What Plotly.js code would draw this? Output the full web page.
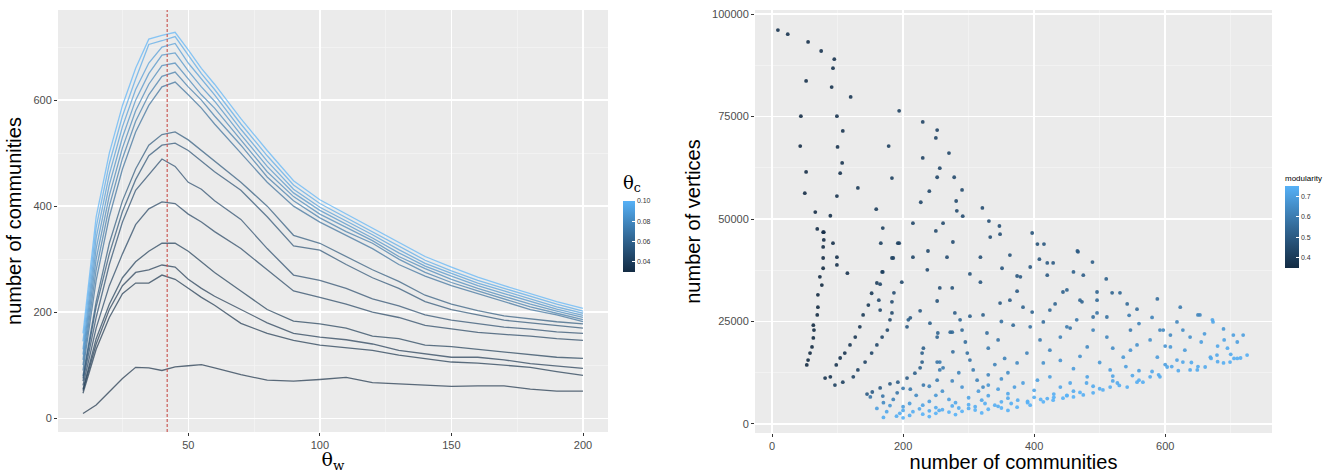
<!DOCTYPE html>
<html>
<head>
<meta charset="utf-8">
<script src="https://cdn.plot.ly/plotly-3.0.1.min.js"></script>
<style>
  html, body { margin: 0; padding: 0; background: #ffffff; }
  #chart { width: 1341px; height: 473px; }
</style>
</head>
<body>
<div id="chart"></div>
<script>
// ---------------- DATA (left panel) ----------------
const thetaW = [10,15,20,25,30,35,40,45,50,55,60,70,80,90,100,110,120,130,140,150,160,170,180,190,200];
const thetaC = [0.030,0.032,0.034,0.036,0.040,0.044,0.048,0.052,0.064,0.070,0.076,0.082,0.088,0.094,0.100];
const optimalThetaW = 42;

const comm_tc030 = [9,25,50,75,96,95,90,97,99,101,95,82,72,70,73,77,67,65,63,60,61,61,55,51,51];
const comm_tc032 = [47,130,190,235,255,255,270,262,245,228,213,179,160,147,138,133,128,119,112,106,104,100,96,88,81];
const comm_tc034 = [52,140,205,250,275,280,289,285,262,245,230,205,180,160,153,148,140,128,122,115,115,110,103,98,94];
const comm_tc036 = [55,150,215,265,295,315,330,330,315,295,275,240,205,183,178,170,155,150,138,135,130,125,120,115,113];
const comm_tc040 = [62,170,250,310,365,395,408,405,385,370,352,320,280,240,228,215,200,190,175,168,162,158,155,150,147];
const comm_tc044 = [70,190,290,370,430,460,489,475,445,432,410,375,320,270,260,245,225,212,195,185,178,172,168,163,160];
const comm_tc048 = [75,210,310,390,450,495,515,519,505,485,465,430,380,325,317,290,265,245,220,205,195,185,180,175,170];
const comm_tc052 = [80,220,330,410,470,515,535,540,525,505,485,445,400,345,330,305,280,258,232,215,203,193,187,182,178];
const comm_tc064 = [90,260,380,470,540,590,625,634,610,585,555,500,445,400,370,345,320,290,268,250,235,220,205,195,182];
const comm_tc070 = [100,280,400,490,560,610,645,653,625,600,570,515,455,410,378,352,330,300,275,256,240,225,210,198,186];
const comm_tc076 = [110,300,420,510,580,630,665,670,640,610,585,525,465,418,385,360,335,305,282,262,245,230,215,202,190];
const comm_tc082 = [120,320,440,530,600,650,685,689,655,625,598,535,475,425,392,366,340,312,287,268,250,235,220,206,194];
const comm_tc088 = [130,340,460,550,620,670,700,707,670,640,610,545,485,432,398,372,346,318,292,273,255,240,225,210,198];
const comm_tc094 = [145,360,480,570,640,705,712,720,685,650,620,555,495,440,405,378,352,325,298,278,260,245,230,215,202];
const comm_tc100 = [160,380,500,590,660,715,722,728,695,660,630,565,505,448,412,385,358,332,305,285,266,250,235,220,207];

const communitySeries = [comm_tc030,comm_tc032,comm_tc034,comm_tc036,comm_tc040,comm_tc044,comm_tc048,comm_tc052,
                         comm_tc064,comm_tc070,comm_tc076,comm_tc082,comm_tc088,comm_tc094,comm_tc100];

// ---------------- DATA (right panel) ----------------
const numCommunities = [
 9,24,55,75,95,93,52,91,120,194,44,99,230,252,108,250,43,100,178,270,230,107,256,52,104,183,252,278,131,240,290,50,99,227,281,159,282,321,66,89,291,331,215,261,347,169,250,69,79,348,333,
 397,166,194,276,405,415,238,466,215,267,318,363,408,489,429,185,169,237,351,420,302,374,475,510,198,318,165,256,374,444,496,519,531,588,186,275,252,348,363,432,473,542,557,623,650,226,279,397,490,511,673,689,208,302,322,368,455,414,547,592,608,275,328,704,719,
 53,55,58,61,63,64,63,69,70,70,76,73,78,78,78,79,78,93,99,99,115,
 81,89,98,104,111,119,127,134,139,147,152,160,168,183,192,
 96,108,124,131,142,152,160,168,176,180,183,183,163,165,
 145,153,165,180,192,206,218,226,229,229,231,
 150,169,191,211,231,252,256,256,
 241,252,272,287,290,295,298,302,307,313,322,206,211,253,276,252,261,
 467,653,672,710,725,715,699,689,679,669,661,649,638,627,618,603,592,577,566,557,542,527,516,505,490,475,460,444,429,414,394,374,
 383,405,424,455,481,516,536,547,557,577,597,618,627,638,588,608,
 440,450,465,496,490,511,481,409,394,424,389,414,374,379,394,420,450,470,424,383,496,460,
 170,190,210,230,250,270,290,310,330,350,175,200,225,250,275,300,325,350,375,180,210,240,270,300,330,360,185,220,260,290,330,350,
 400,430,460,490,520,550,580,610,640,670,700,400,440,480,520,560,600,
 195,215,240,260,285,310,340,365,390,420,450,280,320,360,200,230,250,315,345,370,240,275,285,200,170,160,330,340,360,355,330,345,350,
 440,460,470,500,520,540,560,580,545,600,630,655,680,695,705,660,690,
 390,410,430,450,470,500,530,560,590,620,650,680,710,240,280,320,360,200,255,300,345
];
const numVertices = [
 96100,95100,93200,91000,89000,86800,83700,82200,79800,76400,75100,75100,73700,71700,71500,69800,67800,67600,67800,66100,64900,63700,62400,61500,61200,60000,60200,60200,57600,56800,57100,56300,55600,54100,54400,52400,52000,52700,51700,50800,50700,49500,49000,49000,48300,47800,47100,47600,46800,46300,45600,
 46600,44100,44100,44400,43900,43900,42200,42200,40700,40700,40700,41200,40200,39500,39300,40500,37100,37600,38000,36300,36600,36100,36300,35400,34600,34600,34100,33200,32400,32200,32200,32000,32000,30500,32000,33200,30000,29500,30200,29300,29800,29300,28000,28500,26600,27600,27100,27300,26100,26100,24900,23200,25400,26300,26600,24100,23400,24900,22900,22900,21700,22400,22200,21700,21700,
 14400,15600,17300,18800,21000,22900,24100,26600,28500,31500,33900,35900,38000,40500,43200,44900,46800,44100,40700,38800,36800,
 11200,11500,14400,16100,17300,19300,21200,23700,26600,29000,31900,34400,37100,40500,44100,
 9500,10200,11500,13200,15100,17300,19300,21200,22900,25400,27100,29800,30200,27800,
 7300,7800,8800,9800,10200,11200,12400,13700,15100,17300,18500,
 6600,6800,7600,8500,9500,10700,13200,15100,
 24600,21200,22400,25400,22900,20000,17300,15600,13200,10700,9000,23700,25900,22200,17600,15100,13700,
 42000,26600,25400,20000,16800,16100,15100,14900,16800,16300,13900,13200,13200,15100,15600,13900,11500,11500,10200,10200,9000,10000,9000,8300,7600,7100,6600,6300,5800,5400,4600,4100,
 10000,10700,11500,10000,11500,13200,16300,18000,19300,20500,22900,24900,22900,21200,16300,18800,
 21200,23700,25400,27100,22900,21200,18800,20500,23700,18000,17300,14900,14900,35900,38300,39300,32700,30200,27800,28500,30200,37100,
 1600,1900,2100,2400,2600,2900,3100,3400,3600,3900,3000,3300,3700,4000,4400,4700,5000,5400,5800,4500,5000,5500,6000,6400,6900,7400,6000,7000,8000,9000,9500,11000,
 6500,7300,8000,9200,10500,11800,12800,14000,15000,16000,17000,8200,9000,10000,11700,13000,14500,
 2600,3000,3200,3500,3900,4200,4600,5000,5500,6200,6900,5200,5800,6300,4200,4600,7000,8000,8500,9000,9200,10500,12500,8700,5200,3800,12000,14500,12500,16000,18500,20500,25000,
 15500,13500,16500,15000,18500,14000,24500,26000,26500,19000,18000,20000,19000,18500,16000,22000,20500,
 5200,6000,6500,7000,7700,8600,9400,10700,12000,13000,14000,15200,16000,1800,2300,2700,3300,1500,3300,3800,4300
];
const modularity = [
 .38,.38,.37,.38,.38,.38,.37,.38,.39,.42,.36,.38,.43,.43,.38,.43,.36,.38,.42,.44,.43,.38,.44,.36,.38,.42,.44,.45,.40,.44,.45,.36,.38,.44,.45,.41,.45,.46,.36,.37,.46,.47,.44,.45,.47,.42,.45,.36,.37,.47,.47,
 .48,.42,.43,.46,.48,.49,.45,.50,.44,.46,.47,.48,.49,.51,.50,.43,.43,.46,.49,.50,.48,.49,.51,.52,.45,.49,.44,.47,.50,.52,.53,.53,.54,.56,.46,.48,.48,.50,.51,.53,.53,.55,.56,.60,.62,.50,.51,.53,.56,.57,.72,.68,.52,.52,.52,.55,.58,.56,.60,.63,.64,.55,.56,.70,.70,
 .34,.34,.34,.34,.34,.34,.34,.35,.35,.35,.35,.35,.35,.36,.36,.36,.36,.37,.37,.37,.38,
 .38,.38,.38,.38,.38,.39,.39,.39,.40,.40,.40,.41,.41,.42,.42,
 .42,.42,.43,.43,.43,.44,.44,.44,.45,.45,.45,.46,.45,.45,
 .50,.50,.50,.50,.51,.51,.52,.52,.52,.52,.52,
 .58,.58,.58,.59,.59,.60,.60,.60,
 .52,.53,.54,.54,.55,.56,.57,.58,.60,.62,.64,.50,.50,.53,.56,.58,.60,
 .50,.63,.72,.70,.74,.74,.74,.74,.72,.72,.73,.73,.73,.72,.71,.72,.73,.73,.74,.74,.74,.73,.74,.74,.74,.74,.75,.75,.75,.75,.75,.75,
 .70,.70,.70,.72,.71,.70,.68,.67,.66,.66,.64,.63,.65,.66,.69,.68,
 .62,.60,.59,.58,.62,.63,.64,.60,.58,.63,.62,.66,.64,.50,.50,.50,.53,.54,.55,.53,.55,.52,
 .74,.74,.74,.75,.75,.75,.75,.75,.75,.75,.72,.73,.73,.73,.73,.74,.74,.74,.74,.68,.69,.70,.70,.71,.71,.72,.62,.64,.66,.67,.68,.66,
 .74,.74,.73,.73,.72,.72,.72,.72,.73,.73,.73,.72,.72,.72,.71,.70,.70,
 .74,.74,.74,.74,.74,.74,.74,.74,.74,.74,.74,.72,.72,.73,.70,.71,.68,.69,.70,.70,.62,.63,.62,.60,.64,.70,.63,.62,.65,.62,.60,.58,.57,
 .67,.69,.66,.68,.65,.70,.62,.62,.60,.67,.69,.70,.72,.73,.74,.69,.71,
 .75,.75,.75,.75,.75,.74,.74,.74,.73,.73,.73,.73,.74,.75,.75,.75,.75,.75,.74,.74,.74
];

// ---------------- STYLE ----------------
const ggScale = [[0,'#132B43'],[0.25,'#234A6D'],[0.5,'#336A98'],[0.75,'#448DC7'],[1,'#56B1F7']];
function hexToRgb(h){ return [parseInt(h.substr(1,2),16),parseInt(h.substr(3,2),16),parseInt(h.substr(5,2),16)]; }
function scaleColor(t){
  t = Math.max(0, Math.min(1, t));
  for (let i = 1; i < ggScale.length; i++) {
    if (t <= ggScale[i][0]) {
      const a = ggScale[i-1], b = ggScale[i];
      const f = (t - a[0]) / (b[0] - a[0]);
      const ca = hexToRgb(a[1]), cb = hexToRgb(b[1]);
      return 'rgb(' + ca.map((v,k)=>Math.round(v + f*(cb[k]-v))).join(',') + ')';
    }
  }
  return ggScale[ggScale.length-1][1];
}
const tcMin = Math.min(...thetaC), tcMax = Math.max(...thetaC);

const traces = [];
communitySeries.forEach((ys, i) => {
  traces.push({
    type: 'scatter', mode: 'lines', x: thetaW, y: ys, xaxis: 'x', yaxis: 'y',
    line: { color: scaleColor((thetaC[i]-tcMin)/(tcMax-tcMin)), width: 1.3 },
    opacity: 0.68, showlegend: false, hoverinfo: 'skip'
  });
});
// colorbar for theta_c
traces.push({
  type: 'scatter', mode: 'markers', x: thetaC.map(()=>null), y: thetaC.map(()=>null),
  xaxis: 'x', yaxis: 'y', showlegend: false, hoverinfo: 'skip',
  marker: {
    color: thetaC, colorscale: ggScale, cmin: tcMin, cmax: tcMax, showscale: true, size: 1,
    colorbar: {
      title: { text: 'θ<sub>c</sub>', side: 'top', font: { size: 18, family: 'DejaVu Serif', color: '#000' } },
      x: 623/1341, xanchor: 'left', y: 1 - 272/473, yanchor: 'bottom',
      len: 100/473, lenmode: 'fraction', thickness: 12, thicknessmode: 'pixels',
      tickvals: [0.04,0.06,0.08,0.10], ticktext: ['0.04','0.06','0.08','0.10'],
      tickfont: { size: 7, color: '#333' }, ticks: 'inside', tickcolor: '#ffffff', ticklen: 3,
      outlinewidth: 0, xpad: 0, ypad: 0
    }
  }
});
// scatter panel
traces.push({
  type: 'scatter', mode: 'markers', x: numCommunities, y: numVertices, xaxis: 'x2', yaxis: 'y2',
  showlegend: false, hoverinfo: 'skip',
  marker: {
    color: modularity, colorscale: ggScale, cmin: 0.35, cmax: 0.75, size: 3.8, opacity: 0.9,
    showscale: true,
    colorbar: {
      title: { text: 'modularity', side: 'top', font: { size: 8, color: '#000' } },
      x: 1285/1341, xanchor: 'left', y: 1 - 268/473, yanchor: 'bottom',
      len: 96/473, lenmode: 'fraction', thickness: 14, thicknessmode: 'pixels',
      tickvals: [0.4,0.5,0.6,0.7], ticktext: ['0.4','0.5','0.6','0.7'],
      tickfont: { size: 7, color: '#333' }, ticks: 'inside', tickcolor: '#ffffff', ticklen: 3,
      outlinewidth: 0, xpad: 0, ypad: 0
    }
  }
});

const tickFont = { family: 'Liberation Sans, Arial, sans-serif', size: 11, color: '#4D4D4D' };
const titleFont = { family: 'Liberation Sans, Arial, sans-serif', size: 20, color: '#000' };
const axisBase = {
  showgrid: true, gridcolor: '#FFFFFF', gridwidth: 1.4, zeroline: false, showline: false,
  ticks: 'outside', ticklen: 3, tickcolor: '#333333', tickwidth: 1, tickfont: tickFont
};

const layout = {
  width: 1341, height: 473,
  margin: { l: 0, r: 0, t: 0, b: 0 },
  paper_bgcolor: '#FFFFFF', plot_bgcolor: '#EBEBEB',
  font: { family: 'Liberation Sans, Arial, sans-serif' },
  xaxis: Object.assign({}, axisBase, {
    domain: [58/1341, 608/1341], range: [0.5, 209.5], anchor: 'y',
    tickvals: [50,100,150,200],
    minor: { dtick: 25, tick0: 0, showgrid: true, gridcolor: '#F5F5F5', gridwidth: 0.7 },
    title: { text: 'θ<sub>w</sub>', font: { size: 19, family: 'DejaVu Serif', color: '#000' }, standoff: 8 }
  }),
  yaxis: Object.assign({}, axisBase, {
    domain: [1-432/473, 1-10/473], range: [-26, 770], anchor: 'x',
    tickvals: [0,200,400,600],
    minor: { dtick: 100, tick0: 0, showgrid: true, gridcolor: '#F5F5F5', gridwidth: 0.7 },
    title: { text: 'number of communities', font: titleFont, standoff: 6 }
  }),
  xaxis2: Object.assign({}, axisBase, {
    domain: [755/1341, 1272/1341], range: [-26, 763], anchor: 'y2',
    tickvals: [0,200,400,600],
    minor: { dtick: 100, tick0: 0, showgrid: true, gridcolor: '#F5F5F5', gridwidth: 0.7 },
    title: { text: 'number of communities', font: titleFont, standoff: 2 }
  }),
  yaxis2: Object.assign({}, axisBase, {
    domain: [1-433/473, 1-10/473], range: [-2200, 101000], anchor: 'x2',
    tickvals: [0,25000,50000,75000,100000], tickformat: 'd',
    minor: { dtick: 12500, tick0: 0, showgrid: true, gridcolor: '#F5F5F5', gridwidth: 0.7 },
    title: { text: 'number of vertices', font: titleFont, standoff: 6 }
  }),
  shapes: [{
    type: 'line', xref: 'x', yref: 'y domain', x0: optimalThetaW, x1: optimalThetaW, y0: 0, y1: 1,
    line: { color: 'rgba(200,80,75,0.85)', width: 1.3, dash: '3px,2px' }
  }]
};

Plotly.newPlot('chart', traces, layout, { displayModeBar: false, staticPlot: true });
</script>
</body>
</html>
